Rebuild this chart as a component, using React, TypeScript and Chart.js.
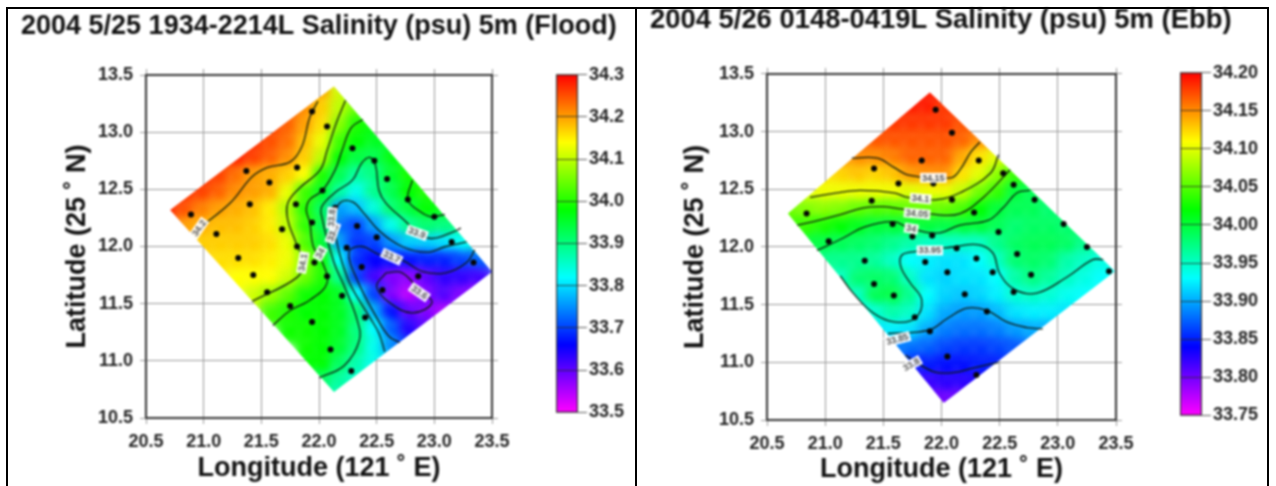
import React, { useEffect, useRef } from "react";
import { Chart, registerables } from "chart.js";

Chart.register(...registerables);

type Pair = [number, number];

const titleFlood = "2004 5/25 1934-2214L Salinity (psu) 5m (Flood)";
const titleEbb = "2004 5/26 0148-0419L Salinity (psu) 5m (Ebb)";
const xAxisTitle = "Longitude (121 ˚ E)";
const yAxisTitle = "Latitude (25 ˚ N)";

const fieldLons = [20.7, 20.85, 21.0, 21.15, 21.3, 21.45, 21.6, 21.75, 21.9, 22.05, 22.2, 22.35, 22.5, 22.65, 22.8, 22.95, 23.1, 23.25, 23.4];
const fieldLats = [13.35, 13.2, 13.05, 12.9, 12.75, 12.6, 12.45, 12.3, 12.15, 12.0, 11.85, 11.7, 11.55, 11.4, 11.25, 11.1, 10.95, 10.8, 10.65];

const floodRowStart = [7, 6, 5, 4, 3, 2, 1, 0, 1, 2, 3, 4, 5, 6, 7, 8, 8, 8, 9];
const floodRows = [
  [34.24, 34.23, 34.2, 34.11, 34.07, 34.03],
  [34.26, 34.25, 34.21, 34.17, 34.1, 34.05, 34.0, 34.0],
  [34.27, 34.27, 34.24, 34.2, 34.16, 34.07, 34.0, 33.98, 33.98],
  [34.27, 34.27, 34.25, 34.23, 34.18, 34.13, 34.02, 33.98, 33.96, 33.96],
  [34.28, 34.28, 34.26, 34.24, 34.21, 34.17, 34.1, 33.98, 33.94, 33.93, 33.97, 33.99, 33.99],
  [34.28, 34.26, 34.23, 34.2, 34.19, 34.17, 34.14, 34.0, 33.93, 33.88, 33.9, 33.95, 33.99, 34.0, 34.0],
  [34.27, 34.26, 34.24, 34.21, 34.2, 34.19, 34.13, 34.02, 33.96, 33.88, 33.83, 33.89, 33.93, 33.98, 34.0, 34.0],
  [34.28, 34.25, 34.22, 34.2, 34.19, 34.18, 34.15, 34.09, 34.0, 33.92, 33.76, 33.78, 33.84, 33.91, 33.94, 33.98, 33.97, 33.96],
  [34.2, 34.19, 34.18, 34.18, 34.17, 34.15, 34.1, 34.01, 33.93, 33.73, 33.7, 33.76, 33.83, 33.89, 33.91, 33.9, 33.9],
  [34.17, 34.17, 34.17, 34.17, 34.16, 34.13, 34.03, 33.95, 33.76, 33.69, 33.7, 33.75, 33.79, 33.79, 33.8, 33.82, 33.85],
  [34.16, 34.16, 34.16, 34.15, 34.13, 34.07, 33.99, 33.82, 33.69, 33.66, 33.67, 33.67, 33.68, 33.68, 33.7, 33.72],
  [34.14, 34.14, 34.14, 34.11, 34.05, 34.0, 33.89, 33.7, 33.62, 33.58, 33.57, 33.6, 33.63, 33.63, 33.62],
  [34.11, 34.08, 34.04, 33.99, 33.98, 33.96, 33.82, 33.7, 33.58, 33.54, 33.58, 33.61, 33.58, 33.56],
  [34.02, 34.0, 33.98, 33.98, 33.96, 33.91, 33.77, 33.67, 33.6, 33.58, 33.55],
  [33.99, 33.99, 33.98, 33.96, 33.9, 33.82, 33.72, 33.64, 33.6],
  [33.99, 33.98, 33.95, 33.9, 33.83, 33.75, 33.68],
  [33.98, 33.98, 33.92, 33.87, 33.83, 33.78],
  [33.93, 33.92, 33.88, 33.85, 33.82],
  [33.88, 33.86],
];

const ebbRowStart = [7, 6, 5, 4, 3, 2, 1, 0, 0, 1, 2, 3, 4, 4, 5, 6, 7, 7, 8];
const ebbRows = [
  [34.19, 34.19, 34.19],
  [34.19, 34.19, 34.19, 34.18, 34.18],
  [34.18, 34.18, 34.18, 34.18, 34.18, 34.17, 34.17],
  [34.17, 34.17, 34.17, 34.17, 34.17, 34.17, 34.165, 34.15],
  [34.15, 34.15, 34.15, 34.155, 34.165, 34.165, 34.165, 34.14, 34.12, 34.1, 34.08],
  [34.12, 34.125, 34.13, 34.125, 34.13, 34.145, 34.15, 34.15, 34.12, 34.1, 34.07, 34.04, 34.03],
  [34.1, 34.105, 34.105, 34.105, 34.105, 34.105, 34.1, 34.105, 34.105, 34.09, 34.06, 34.04, 34.0, 33.99, 33.98],
  [34.06, 34.065, 34.07, 34.065, 34.055, 34.05, 34.05, 34.055, 34.055, 34.055, 34.045, 34.02, 34.0, 33.99, 33.99, 33.98, 33.98],
  [34.04, 34.04, 34.03, 34.02, 34.01, 34.0, 34.0, 34.0, 34.0, 33.995, 34.0, 34.0, 33.99, 33.98, 33.985, 33.985, 33.98, 33.98],
  [34.0, 33.995, 33.99, 33.985, 33.98, 33.97, 33.96, 33.95, 33.95, 33.95, 33.95, 33.97, 33.985, 33.99, 33.99, 33.985, 33.97, 33.96],
  [33.97, 33.97, 33.97, 33.965, 33.95, 33.93, 33.925, 33.92, 33.92, 33.93, 33.95, 33.98, 33.985, 33.98, 33.96, 33.95, 33.94],
  [33.95, 33.98, 33.985, 33.98, 33.95, 33.92, 33.915, 33.92, 33.92, 33.93, 33.96, 33.975, 33.965, 33.95, 33.94, 33.93],
  [33.95, 33.99, 33.995, 33.97, 33.93, 33.915, 33.91, 33.915, 33.925, 33.945, 33.95, 33.945, 33.935, 33.93],
  [33.93, 33.945, 33.96, 33.95, 33.92, 33.9, 33.895, 33.895, 33.905, 33.92, 33.925, 33.925, 33.92],
  [33.92, 33.925, 33.92, 33.9, 33.885, 33.88, 33.88, 33.885, 33.895, 33.9, 33.9],
  [33.885, 33.88, 33.875, 33.865, 33.86, 33.86, 33.865, 33.87],
  [33.85, 33.85, 33.845, 33.845, 33.85, 33.85],
  [33.82, 33.82, 33.825, 33.825, 33.83],
  [33.8, 33.8, 33.8],
];

const floodOutline: Pair[] = [[20.71, 12.32], [22.13, 13.4], [23.5, 11.78], [22.13, 10.73]];
const ebbOutline: Pair[] = [[20.68, 12.29], [21.9, 13.34], [23.49, 11.79], [22.02, 10.65]];

const floodStations: Pair[] = [
  [20.89, 12.28], [21.11, 12.11], [21.37, 12.66], [21.4, 12.37], [21.57, 12.56], [21.68, 12.15], [21.81, 12.69], [21.8, 12.37],
  [21.94, 13.18], [21.94, 12.21], [22.07, 13.05], [22.29, 12.86], [22.48, 12.75], [22.59, 12.59], [22.77, 12.41], [23.0, 12.26],
  [22.03, 12.49], [22.14, 12.34], [22.33, 12.18], [22.5, 12.08], [23.15, 12.04], [22.12, 12.1], [21.3, 11.9], [21.43, 11.75],
  [21.55, 11.6], [21.75, 11.48], [21.94, 11.34], [21.81, 12.0], [21.96, 11.86], [22.24, 11.99], [22.37, 11.82], [22.07, 11.74],
  [22.2, 11.57], [22.4, 11.38], [22.1, 11.1], [22.28, 10.91], [22.55, 11.62], [22.86, 11.74], [23.34, 11.86], [22.65, 11.9],
];
const ebbStations: Pair[] = [
  [20.84, 12.29], [21.03, 12.05], [21.4, 12.4], [21.42, 12.68], [21.63, 12.55], [21.58, 12.2], [21.83, 12.75], [21.93, 12.55],
  [21.95, 13.19], [22.09, 12.99], [22.09, 12.41], [21.75, 12.09], [21.92, 12.1], [22.32, 12.75], [22.53, 12.64], [22.62, 12.54],
  [22.8, 12.41], [23.05, 12.2], [22.28, 12.3], [22.49, 12.13], [21.34, 11.88], [21.42, 11.68], [21.59, 11.58], [21.77, 11.39],
  [21.9, 11.27], [22.05, 11.05], [21.86, 11.87], [22.05, 11.78], [22.13, 11.99], [22.3, 11.9], [22.44, 11.78], [22.65, 11.94],
  [23.25, 12.0], [22.77, 11.76], [23.44, 11.79], [22.62, 11.61], [22.2, 11.59], [22.39, 11.44], [22.3, 10.89],
];

const flood342: Pair[] = [[20.96, 12.16], [21.23, 12.38], [21.42, 12.61], [21.55, 12.69], [21.75, 12.74], [21.85, 12.87], [21.92, 13.13], [21.99, 13.27]];
const flood341: Pair[] = [[22.23, 13.28], [22.15, 13.08], [22.07, 12.84], [22.01, 12.67], [21.83, 12.51], [21.73, 12.38], [21.73, 12.23], [21.79, 12.06], [21.86, 11.86], [21.81, 11.73], [21.42, 11.52]];
const flood340: Pair[] = [[22.38, 13.11], [22.28, 13.04], [22.2, 12.84], [22.14, 12.67], [22.03, 12.49], [21.92, 12.41], [21.89, 12.32], [21.92, 12.21], [21.95, 12.0], [22.03, 11.86], [22.07, 11.68], [21.92, 11.53], [21.75, 11.44], [21.6, 11.31]];
const flood339: Pair[] = [[22.0, 10.85], [22.22, 10.96], [22.35, 11.18], [22.33, 11.36], [22.22, 11.65], [22.13, 11.86], [22.02, 12.28], [22.03, 12.36], [22.15, 12.48], [22.29, 12.58], [22.37, 12.73], [22.44, 12.78], [22.49, 12.71], [22.52, 12.49], [22.58, 12.38], [22.76, 12.21], [22.85, 12.12], [22.98, 12.07], [23.17, 12.13], [23.23, 12.16]];
const flood340b: Pair[] = [[22.81, 12.58], [22.77, 12.41], [22.87, 12.31], [22.97, 12.26], [23.09, 12.28]];
const flood338: Pair[] = [[23.28, 12.04], [23.1, 12.0], [22.93, 11.95], [22.72, 12.0], [22.52, 12.14], [22.39, 12.29], [22.29, 12.39], [22.18, 12.38], [22.13, 12.23], [22.15, 12.06], [22.2, 11.86], [22.28, 11.65], [22.44, 11.38], [22.52, 11.24], [22.57, 11.08]];
const flood337: Pair[] = [[23.35, 11.97], [23.28, 11.86], [23.1, 11.77], [22.9, 11.78], [22.72, 11.88], [22.52, 11.93], [22.37, 12.0], [22.26, 11.95], [22.33, 11.71], [22.51, 11.36], [22.61, 11.21], [22.7, 11.16]];
const flood336: Pair[] = [[22.58, 11.77], [22.72, 11.77], [22.87, 11.62], [22.98, 11.51], [22.81, 11.42], [22.61, 11.51], [22.5, 11.65], [22.58, 11.77]];

const ebb3415: Pair[] = [[21.23, 12.77], [21.45, 12.77], [21.59, 12.69], [21.73, 12.62], [22.08, 12.6], [22.16, 12.67], [22.25, 12.82], [22.33, 12.91]];
const ebb341: Pair[] = [[20.87, 12.43], [21.1, 12.47], [21.3, 12.49], [21.59, 12.47], [21.71, 12.43], [21.96, 12.41], [22.16, 12.47], [22.42, 12.64], [22.49, 12.8]];
const ebb3405: Pair[] = [[20.76, 12.19], [20.9, 12.22], [21.13, 12.28], [21.33, 12.34], [21.5, 12.35], [21.65, 12.33], [21.96, 12.28], [22.16, 12.29], [22.36, 12.43], [22.59, 12.67]];
const ebb340: Pair[] = [[20.93, 11.97], [21.16, 12.08], [21.33, 12.17], [21.59, 12.22], [21.71, 12.17], [21.96, 12.12], [22.16, 12.19], [22.4, 12.23], [22.53, 12.34], [22.65, 12.47], [22.76, 12.49]];
const ebb3395: Pair[] = [[21.13, 11.75], [21.24, 11.6], [21.41, 11.43], [21.59, 11.35], [21.77, 11.38], [21.83, 11.54], [21.73, 11.69], [21.65, 11.83], [21.66, 11.93], [21.77, 11.96], [22.1, 12.0], [22.31, 12.02], [22.44, 11.95], [22.5, 11.77], [22.63, 11.63], [22.82, 11.6], [23.08, 11.74], [23.3, 11.89], [23.39, 11.89]];
const ebb339: Pair[] = [[21.54, 11.25], [21.89, 11.28], [22.05, 11.38], [22.22, 11.47], [22.39, 11.45], [22.56, 11.35], [22.74, 11.3], [22.87, 11.29]];
const ebb3385: Pair[] = [[21.69, 11.06], [21.93, 10.92], [22.1, 10.91], [22.27, 10.95], [22.49, 11.0]];

const floodContourLabels = ["34.2", "34.1", "34", "33.9", "33.8", "33.9", "33.7", "33.6"];
const floodLabelLons = [20.96, 21.86, 22.01, 22.12, 22.11, 22.85, 22.63, 22.87];
const floodLabelLats = [12.16, 11.86, 11.94, 12.12, 12.25, 12.12, 11.91, 11.6];
const floodLabelAngles = [-55, -80, -60, -70, -85, 20, 25, 35];

const ebbContourLabels = ["34.15", "34.1", "34.05", "34", "33.95", "33.85", "33.8"];
const ebbLabelLons = [21.93, 21.82, 21.79, 21.74, 21.9, 21.62, 21.74];
const ebbLabelLats = [12.6, 12.42, 12.29, 12.16, 11.97, 11.2, 10.98];
const ebbLabelAngles = [0, 5, 5, 10, 0, -15, -30];

const rampStops = [
  [255, 0, 255],
  [0, 0, 255],
  [0, 255, 255],
  [0, 255, 0],
  [255, 255, 0],
  [255, 0, 0],
];

function rampColor(f: number) {
  const p = Math.max(0, Math.min(0.9999, f)) * (rampStops.length - 1);
  const i = Math.floor(p);
  const t = p - i;
  const c = rampStops[i].map((v, k) => Math.round(v + (rampStops[i + 1][k] - v) * t));
  return `rgb(${c[0]},${c[1]},${c[2]})`;
}

const pts = (a: Pair[]) => a.map(([x, y]) => ({ x, y }));
const FONT = "'Liberation Sans', Arial, sans-serif";
const INK = "#222222";

interface PanelDef {
  title: string;
  titleSize: number;
  rowStart: number[];
  rows: number[][];
  vMin: number;
  vMax: number;
  outline: Pair[];
  stations: Pair[];
  contours: Pair[][];
  labels: string[];
  labelLons: number[];
  labelLats: number[];
  labelAngles: number[];
  padLeft: number;
  leftW: number;
  rightW: number;
  topH: number;
  bottomH: number;
  titlePadTop: number;
  yTitlePad: number;
  xTitlePad: number;
}

function buildPanel(canvas: HTMLCanvasElement, d: PanelDef) {
  const cells: { x: number; y: number; v: number }[] = [];
  d.rows.forEach((row, r) =>
    row.forEach((v, i) => cells.push({ x: fieldLons[d.rowStart[r] + i], y: fieldLats[r], v }))
  );
  const fieldPlugin = {
    id: "fieldClip",
    beforeDatasetDraw(chart: any, args: any) {
      if (args.index !== 0) return;
      const { ctx, scales } = chart;
      ctx.save();
      ctx.beginPath();
      d.outline.forEach(([x, y], i) => {
        const px = scales.x.getPixelForValue(x);
        const py = scales.y.getPixelForValue(y);
        if (i === 0) ctx.moveTo(px, py);
        else ctx.lineTo(px, py);
      });
      ctx.closePath();
      ctx.clip();
      ctx.filter = "blur(5px)";
    },
    afterDatasetDraw(chart: any, args: any) {
      if (args.index !== 0) return;
      chart.ctx.filter = "none";
      chart.ctx.restore();
    },
  };
  const labelPlugin = {
    id: "contourLabels",
    afterDatasetsDraw(chart: any) {
      const { ctx, scales } = chart;
      d.labels.forEach((text, i) => {
        ctx.save();
        ctx.translate(scales.x.getPixelForValue(d.labelLons[i]), scales.y.getPixelForValue(d.labelLats[i]));
        ctx.rotate((d.labelAngles[i] * Math.PI) / 180);
        ctx.font = `bold 9px ${FONT}`;
        const w = ctx.measureText(text).width + 4;
        ctx.fillStyle = "rgba(255,255,255,0.92)";
        ctx.fillRect(-w / 2, -5, w, 10);
        ctx.fillStyle = "#555";
        ctx.textAlign = "center";
        ctx.textBaseline = "middle";
        ctx.fillText(text, 0, 0.5);
        ctx.restore();
      });
    },
  };
  const tickFont = { family: FONT, size: 18, weight: "bold" as const };
  const grid = { color: "#9a9a9a", lineWidth: 1, tickLength: 6 };
  const border = { color: "#333333", width: 2 };
  const common = { type: "linear" as const };
  const axisTitleFont = { family: FONT, size: 27, weight: "bold" as const };
  return new Chart(canvas, {
    type: "scatter",
    data: {
      datasets: [
        {
          label: "Salinity",
          data: cells,
          order: 5,
          pointStyle: "rect",
          pointRadius: 17,
          pointBorderWidth: 0,
          backgroundColor: cells.map((c) => rampColor((c.v - d.vMin) / (d.vMax - d.vMin))),
        },
        ...d.contours.map((c, i) => ({
          label: `Contour ${i + 1}`,
          data: pts(c),
          order: 3,
          showLine: true,
          tension: 0.4,
          pointRadius: 0,
          borderColor: "#0e1a0e",
          borderWidth: 1.3,
        })),
        {
          label: "Stations",
          data: pts(d.stations),
          order: 1,
          pointRadius: 3,
          pointBorderWidth: 0,
          backgroundColor: "#050505",
        },
      ] as any,
    },
    options: {
      animation: false,
      responsive: false,
      layout: { padding: { left: d.padLeft, right: 0, top: 0, bottom: 0 } },
      plugins: {
        legend: { display: false },
        tooltip: { enabled: false },
        title: {
          display: true,
          text: d.title,
          align: "start",
          color: "#111111",
          font: { family: FONT, size: d.titleSize, weight: "bold" },
          padding: { top: d.titlePadTop, bottom: 0 },
        },
      },
      scales: {
        x: {
          ...common,
          min: 20.5,
          max: 23.5,
          position: "bottom",
          afterFit: (s: any) => { s.height = d.bottomH; },
          ticks: { stepSize: 0.5, color: INK, font: tickFont, padding: 7, maxRotation: 0, callback: (v: any) => Number(v).toFixed(1) },
          grid,
          border,
          title: { display: true, text: xAxisTitle, color: "#111111", font: axisTitleFont, padding: { top: 0, bottom: d.xTitlePad } },
        },
        y: {
          ...common,
          min: 10.5,
          max: 13.5,
          position: "left",
          afterFit: (s: any) => { s.width = d.leftW; },
          ticks: { stepSize: 0.5, color: INK, font: tickFont, padding: 7, callback: (v: any) => Number(v).toFixed(1) },
          grid,
          border,
          title: { display: true, text: yAxisTitle, color: "#111111", font: axisTitleFont, padding: { top: d.yTitlePad, bottom: 0 } },
        },
        xTop: {
          ...common,
          min: 20.5,
          max: 23.5,
          position: "top",
          afterFit: (s: any) => { s.height = d.topH; },
          ticks: { stepSize: 0.5, display: false },
          grid: { ...grid, drawOnChartArea: false },
          border,
        },
        yRight: {
          ...common,
          min: 10.5,
          max: 13.5,
          position: "right",
          afterFit: (s: any) => { s.width = d.rightW; },
          ticks: { stepSize: 0.5, display: false },
          grid: { ...grid, drawOnChartArea: false },
          border,
        },
      } as any,
    },
    plugins: [fieldPlugin, labelPlugin],
  } as any);
}

function buildBar(canvas: HTMLCanvasElement, vMin: number, vMax: number, step: number, digits: number) {
  return new Chart(canvas, {
    type: "bar",
    data: {
      labels: ["psu"],
      datasets: [
        {
          data: [[vMin, vMax]],
          barPercentage: 1,
          categoryPercentage: 1,
          borderColor: "#303030",
          borderWidth: { left: 1.5, right: 1.5, top: 1, bottom: 1 },
          borderSkipped: false,
          backgroundColor: (c: any) => {
            const { ctx, chartArea } = c.chart;
            if (!chartArea) return "#888";
            const g = ctx.createLinearGradient(0, chartArea.bottom, 0, chartArea.top);
            rampStops.forEach((_s, i) => {
              const f = i / (rampStops.length - 1);
              g.addColorStop(f, rampColor(f));
            });
            return g;
          },
        },
      ],
    },
    options: {
      animation: false,
      responsive: false,
      layout: { padding: { top: 10, bottom: 10 } },
      plugins: { legend: { display: false }, tooltip: { enabled: false } },
      scales: {
        x: { display: false },
        y: {
          position: "right",
          min: vMin,
          max: vMax,
          afterFit: (s: any) => { s.width = 68; },
          ticks: { stepSize: step, color: INK, font: { family: FONT, size: 18, weight: "bold" }, padding: 2, callback: (v: any) => Number(v).toFixed(digits) },
          grid: { color: "rgba(40,40,40,0.75)", lineWidth: 1, tickLength: 9, z: 1 },
          border: { display: false },
        },
      } as any,
    },
  } as any);
}

const floodContours = [flood342, flood341, flood340, flood339, flood340b, flood338, flood337, flood336];
const ebbContours = [ebb3415, ebb341, ebb3405, ebb340, ebb3395, ebb339, ebb3385];

export default function App() {
  const a = useRef<HTMLCanvasElement>(null);
  const b = useRef<HTMLCanvasElement>(null);
  const ca = useRef<HTMLCanvasElement>(null);
  const cb = useRef<HTMLCanvasElement>(null);
  useEffect(() => {
    const charts = [
      buildPanel(a.current!, {
        title: titleFlood, titleSize: 27, rowStart: floodRowStart, rows: floodRows, vMin: 33.5, vMax: 34.3,
        outline: floodOutline, stations: floodStations, contours: floodContours,
        labels: floodContourLabels, labelLons: floodLabelLons, labelLats: floodLabelLats, labelAngles: floodLabelAngles,
        padLeft: 21, leftW: 125, rightW: 144, topH: 31.8, bottomH: 68, titlePadTop: 10.8, yTitlePad: 40.8, xTitlePad: 1,
      }),
      buildPanel(b.current!, {
        title: titleEbb, titleSize: 27.4, rowStart: ebbRowStart, rows: ebbRows, vMin: 33.75, vMax: 34.2,
        outline: ebbOutline, stations: ebbStations, contours: ebbContours,
        labels: ebbContourLabels, labelLons: ebbLabelLons, labelLats: ebbLabelLats, labelAngles: ebbLabelAngles,
        padLeft: 12, leftW: 117, rightW: 152, topH: 37.3, bottomH: 66, titlePadTop: 3.8, yTitlePad: 29.8, xTitlePad: 0,
      }),
      buildBar(ca.current!, 33.5, 34.3, 0.1, 1),
      buildBar(cb.current!, 33.75, 34.2, 0.05, 2),
    ];
    return () => charts.forEach((c) => c.destroy());
  }, []);
  const abs = (left: number, top: number): React.CSSProperties => ({ position: "absolute", left, top });
  const line = (left: number, top: number, width: number, height: number) => (
    <div style={{ position: "absolute", left, top, width, height, background: "#000" }} />
  );
  return (
    <div style={{ position: "absolute", left: 0, top: 0, width: 1276, height: 486, overflow: "hidden", background: "#fff" }}>
      <div style={{ position: "absolute", left: 0, top: 0, width: 1276, height: 486, filter: "blur(0.8px)" }}>
        <canvas ref={a} width={636} height={486} style={abs(0, 0)} />
        <canvas ref={b} width={630} height={486} style={abs(638, 0)} />
        <canvas ref={ca} width={90} height={363} style={abs(556, 62)} />
        <canvas ref={cb} width={90} height={368} style={abs(1180, 60)} />
      </div>
      {line(6, 7, 1263, 2)}
      {line(6, 7, 2, 479)}
      {line(635, 7, 2, 479)}
      {line(1267, 7, 2, 479)}
    </div>
  );
}
